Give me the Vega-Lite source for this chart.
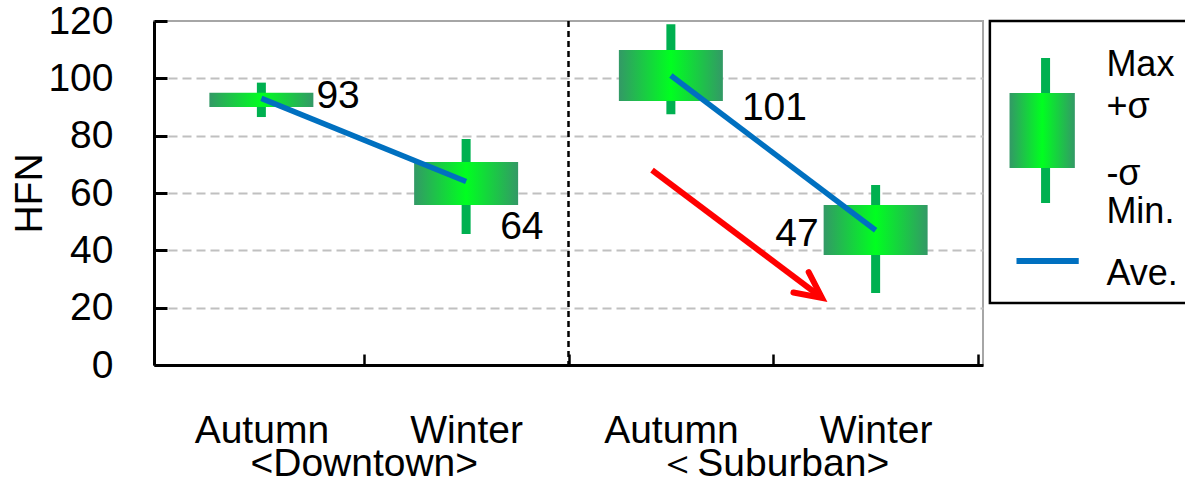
{
  "$schema": "https://vega.github.io/schema/vega-lite/v6.json",
  "width": 829,
  "height": 344,
  "autosize": {"type": "none"},
  "padding": {"left": 154, "top": 21, "right": 202, "bottom": 114},
  "config": {
    "view": {"stroke": "#a6a6a6", "strokeWidth": 2},
    "font": "Liberation Sans",
    "text": {"font": "Liberation Sans"}
  },
  "datasets": {
    "stats": [
      {"region": "Downtown", "season": "Autumn", "idx": 0.5, "min": 86.5, "lo": 90.0, "ave": 93, "hi": 95.0, "max": 98.5},
      {"region": "Downtown", "season": "Winter", "idx": 1.5, "min": 45.7, "lo": 55.8, "ave": 64, "hi": 70.8, "max": 78.8},
      {"region": "Suburban", "season": "Autumn", "idx": 2.5, "min": 87.5, "lo": 92.1, "ave": 101, "hi": 109.9, "max": 118.9},
      {"region": "Suburban", "season": "Winter", "idx": 3.5, "min": 25.1, "lo": 38.4, "ave": 47, "hi": 55.8, "max": 62.8}
    ],
    "arrow": [{"x": 2.408, "y": 68, "x2": 3.238, "y2": 23.4}],
    "legend": [
      {"label": "Max", "pos": 100.8},
      {"label": "+σ", "pos": 86.2},
      {"label": "-σ", "pos": 62.8},
      {"label": "Min.", "pos": 49.5},
      {"label": "Ave.", "pos": 27.9}
    ]
  },
  "layer": [
    {
      "data": {"values": [{}]},
      "mark": {"type": "rule", "color": "black", "strokeWidth": 2.5, "strokeDash": [6, 4]},
      "encoding": {
        "x": {
          "datum": 2,
          "type": "quantitative",
          "scale": {"domain": [0, 4], "nice": false, "zero": false},
          "axis": {
            "title": null,
            "values": [0.5, 1, 1.5, 2, 2.5, 3, 3.5, 4],
            "labelExpr": "datum.value == 0.5 || datum.value == 2.5 ? 'Autumn' : (datum.value == 1.5 || datum.value == 3.5 ? 'Winter' : (datum.value == 1 ? ['', '<Downtown>'] : (datum.value == 3 ? ['', '＜Suburban>'] : '')))",
            "labelFont": "Liberation Sans",
            "labelFontSize": 39,
            "labelColor": "black",
            "labelLineHeight": 33,
            "labelLimit": 0,
            "labelOverlap": false,
            "labelFlush": false,
            "labelBound": false,
            "labelPadding": 57,
            "tickSize": -11,
            "tickWidth": 2.5,
            "tickColor": {"condition": {"test": "datum.value % 1 == 0", "value": "black"}, "value": "transparent"},
            "domainColor": "black",
            "domainWidth": 3,
            "grid": false
          }
        }
      }
    },
    {
      "data": {"name": "stats"},
      "mark": {"type": "rule", "color": "#00b050", "strokeWidth": 9},
      "encoding": {
        "x": {"field": "idx", "type": "quantitative"},
        "y": {
          "field": "min",
          "type": "quantitative",
          "scale": {"domain": [0, 120], "nice": false, "zero": true},
          "axis": {
            "title": "HFN",
            "titleFont": "Liberation Sans",
            "titleFontSize": 39,
            "titleFontWeight": "normal",
            "titleColor": "black",
            "titlePadding": -2,
            "values": [0, 20, 40, 60, 80, 100, 120],
            "labelFont": "Liberation Sans",
            "labelFontSize": 39,
            "labelColor": "black",
            "labelPadding": 54,
            "tickSize": -13,
            "tickWidth": 3,
            "tickColor": "black",
            "domainColor": "black",
            "domainWidth": 3,
            "grid": true,
            "gridDash": [9, 5],
            "gridWidth": 2,
            "gridColor": {"condition": {"test": "datum.value == 0 || datum.value == 120", "value": "transparent"}, "value": "#c0c0c0"}
          }
        },
        "y2": {"field": "max"}
      }
    },
    {
      "data": {"name": "stats"},
      "mark": {
        "type": "bar",
        "width": 104,
        "fill": {"gradient": "linear", "x1": 0, "y1": 0, "x2": 1, "y2": 0, "stops": [{"offset": 0, "color": "#339966"}, {"offset": 0.5, "color": "#00ff20"}, {"offset": 1, "color": "#339966"}]}
      },
      "encoding": {
        "x": {"field": "idx", "type": "quantitative"},
        "y": {"field": "lo", "type": "quantitative"},
        "y2": {"field": "hi"}
      }
    },
    {
      "data": {"name": "stats"},
      "mark": {"type": "line", "color": "#0070c0", "strokeWidth": 5.5},
      "encoding": {
        "x": {"field": "idx", "type": "quantitative"},
        "y": {"field": "ave", "type": "quantitative"},
        "detail": {"field": "region"}
      }
    },
    {
      "data": {"name": "stats"},
      "transform": [{"filter": "datum.region == 'Downtown' && datum.season == 'Autumn'"}],
      "mark": {"type": "text", "fontSize": 39, "color": "black", "align": "left", "baseline": "alphabetic", "dx": 55, "dy": 10},
      "encoding": {
        "x": {"field": "idx", "type": "quantitative"},
        "y": {"field": "ave", "type": "quantitative"},
        "text": {"field": "ave"}
      }
    },
    {
      "data": {"name": "stats"},
      "transform": [{"filter": "datum.region == 'Downtown' && datum.season == 'Winter'"}],
      "mark": {"type": "text", "fontSize": 39, "color": "black", "align": "left", "baseline": "alphabetic", "dx": 34, "dy": 57},
      "encoding": {
        "x": {"field": "idx", "type": "quantitative"},
        "y": {"field": "ave", "type": "quantitative"},
        "text": {"field": "ave"}
      }
    },
    {
      "data": {"name": "stats"},
      "transform": [{"filter": "datum.region == 'Suburban' && datum.season == 'Autumn'"}],
      "mark": {"type": "text", "fontSize": 39, "color": "black", "align": "left", "baseline": "alphabetic", "dx": 71, "dy": 45},
      "encoding": {
        "x": {"field": "idx", "type": "quantitative"},
        "y": {"field": "ave", "type": "quantitative"},
        "text": {"field": "ave"}
      }
    },
    {
      "data": {"name": "stats"},
      "transform": [{"filter": "datum.region == 'Suburban' && datum.season == 'Winter'"}],
      "mark": {"type": "text", "fontSize": 39, "color": "black", "align": "right", "baseline": "alphabetic", "dx": -57, "dy": 16},
      "encoding": {
        "x": {"field": "idx", "type": "quantitative"},
        "y": {"field": "ave", "type": "quantitative"},
        "text": {"field": "ave"}
      }
    },
    {
      "data": {"name": "arrow"},
      "mark": {"type": "rule", "color": "#ff0000", "strokeWidth": 6},
      "encoding": {
        "x": {"field": "x", "type": "quantitative"},
        "y": {"field": "y", "type": "quantitative"},
        "x2": {"field": "x2"},
        "y2": {"field": "y2"}
      }
    },
    {
      "data": {"name": "arrow"},
      "mark": {"type": "point", "shape": "M -0.9 -0.44 L 0 0 L -0.9 0.44", "size": 3364, "angle": 36.7, "filled": false, "stroke": "#ff0000", "strokeWidth": 6, "strokeCap": "round", "strokeJoin": "miter", "opacity": 1},
      "encoding": {
        "x": {"field": "x2", "type": "quantitative"},
        "y": {"field": "y2", "type": "quantitative"}
      }
    },
    {
      "data": {"values": [{}]},
      "mark": {"type": "rect", "fill": "transparent", "stroke": "black", "strokeWidth": 2.5},
      "encoding": {
        "x": {"datum": 4.058, "type": "quantitative"},
        "x2": {"datum": 5.2},
        "y": {"datum": 120, "type": "quantitative"},
        "y2": {"datum": 21.63}
      }
    },
    {
      "data": {"values": [{}]},
      "mark": {"type": "rule", "color": "#00b050", "strokeWidth": 9},
      "encoding": {
        "x": {"datum": 4.33, "type": "quantitative"},
        "y": {"datum": 107.1, "type": "quantitative"},
        "y2": {"datum": 56.5}
      }
    },
    {
      "data": {"values": [{}]},
      "mark": {
        "type": "rect",
        "fill": {"gradient": "linear", "x1": 0, "y1": 0, "x2": 1, "y2": 0, "stops": [{"offset": 0, "color": "#339966"}, {"offset": 0.5, "color": "#00ff20"}, {"offset": 1, "color": "#339966"}]}
      },
      "encoding": {
        "x": {"datum": 4.154, "type": "quantitative"},
        "x2": {"datum": 4.473},
        "y": {"datum": 94.9, "type": "quantitative"},
        "y2": {"datum": 68.7}
      }
    },
    {
      "data": {"values": [{}]},
      "mark": {"type": "rule", "color": "#0070c0", "strokeWidth": 6},
      "encoding": {
        "x": {"datum": 4.188, "type": "quantitative"},
        "x2": {"datum": 4.492},
        "y": {"datum": 36.3, "type": "quantitative"}
      }
    },
    {
      "data": {"name": "legend"},
      "mark": {"type": "text", "fontSize": 36, "color": "black", "align": "left", "baseline": "alphabetic"},
      "encoding": {
        "x": {"datum": 4.627, "type": "quantitative"},
        "y": {"field": "pos", "type": "quantitative"},
        "text": {"field": "label"}
      }
    }
  ]
}
